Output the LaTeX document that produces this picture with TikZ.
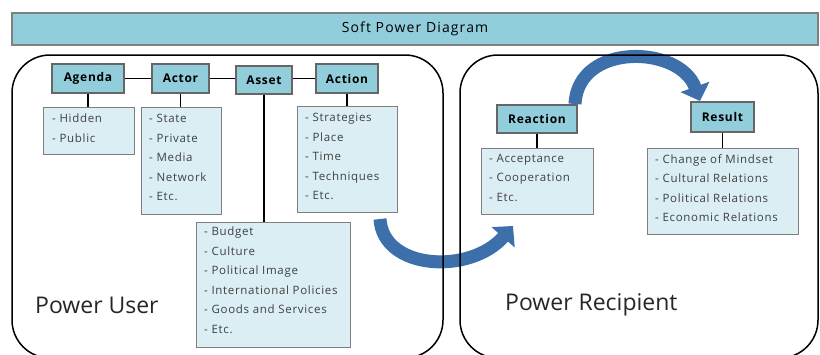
\documentclass[tikz,border=0pt]{standalone}
\usepackage{fontspec}
\setmainfont{Open Sans}
\newfontfamily\spaced[LetterSpace=6]{Open Sans}
\newfontfamily\titlefont[LetterSpace=8]{Open Sans}
\usetikzlibrary{arrows.meta}
\definecolor{hdr}{HTML}{92CDDC}
\definecolor{lst}{HTML}{DAEEF3}
\definecolor{bord}{HTML}{7F7F7F}
\definecolor{arr}{HTML}{3D6FAB}
\begin{document}
\begin{tikzpicture}[x=1pt,y=-1pt,
  hbox/.style={draw=black!60, line width=1.2, fill=hdr, font=\spaced\bfseries\fontsize{12}{13}\selectfont, inner sep=0},
  lbox/.style={draw=bord, line width=0.9, fill=lst, inner sep=0, anchor=north west},
  ltext/.style={font=\spaced\fontsize{11.5}{19.5}\selectfont, align=left, anchor=north west, inner sep=0, text=black!75},
  conn/.style={line width=1.6, draw=black},
  region/.style={draw=black, line width=1.5, rounded corners=38},
  blk/.style={line width=13, draw=arr, -{Triangle[width=30,length=15]}},
  bigtext/.style={font=\fontsize{23}{26}\selectfont, anchor=west, inner sep=0, text=black!85}
]
\useasboundingbox (0,0) rectangle (820,354);
% title bar
\node[draw=black!50, line width=1.2, fill=hdr, minimum width=806, minimum height=32, inner sep=0, font=\titlefont\fontsize{14}{15}\selectfont] (title) at (415,29) {Soft Power Diagram};
% block arrows (drawn below the region borders)
\coordinate (a1s) at (575,104);
\coordinate (a1e) at (700,101);
\coordinate (a2s) at (380,219);
\coordinate (a2e) at (513,226);
\draw[blk] (a2s) .. controls (383,270) and (470,275) .. (a2e);
\draw[blk] (a1s) .. controls (578,42) and (680,45) .. (a1e);
% regions
\draw[region] (12,55) rectangle (443,358);
\draw[region] (460,55) rectangle (818,358);
\node[bigtext] (user) at (35,305) {Power User};
\node[bigtext] (recip) at (505,305) {Power Recipient};
% header boxes
\node[hbox, minimum width=72, minimum height=29] (agenda) at (88,78.5) {Agenda};
\node[hbox, minimum width=57, minimum height=29] (actor) at (180.5,78.5) {Actor};
\node[hbox, minimum width=56, minimum height=28] (asset) at (264,80) {Asset};
\node[hbox, minimum width=62, minimum height=29] (action) at (347,78.5) {Action};
\node[hbox, minimum width=80, minimum height=28] (reaction) at (537,119) {Reaction};
\node[hbox, minimum width=63, minimum height=30] (result) at (722.5,117) {Result};
% list boxes
\node[lbox, minimum width=91, minimum height=47] (agl) at (43,107) {};
\node[lbox, minimum width=80, minimum height=107] (acl) at (141,107) {};
\node[lbox, minimum width=154, minimum height=125] (asl) at (196,222) {};
\node[lbox, minimum width=100, minimum height=106] (atl) at (297,106) {};
\node[lbox, minimum width=112, minimum height=66] (rel) at (481,148) {};
\node[lbox, minimum width=151, minimum height=86] (rsl) at (647,148) {};
% list texts
\node[ltext] (aglt) at (52,114) {- Hidden\\- Public};
\node[ltext] (aclt) at (149,114) {- State\\- Private\\- Media\\- Network\\- Etc.};
\node[ltext] (aslt) at (204,227) {- Budget\\- Culture\\- Political Image\\- International Policies\\- Goods and Services\\- Etc.};
\node[ltext] (atlt) at (305,113) {- Strategies\\- Place\\- Time\\- Techniques\\- Etc.};
\node[ltext] (relt) at (489,154) {- Acceptance\\- Cooperation\\- Etc.};
\node[ltext] (rslt) at (655,154) {- Change of Mindset\\- Cultural Relations\\- Political Relations\\- Economic Relations};
% connectors
\draw[conn] (agenda.east) -- (actor.west |- agenda.east);
\draw[conn] (actor.east) -- (asset.west |- actor.east);
\draw[conn] (asset.east |- action.west) -- (action.west);
\draw[conn] (agenda.south) -- (agenda.south |- agl.north);
\draw[conn] (actor.south) -- (actor.south |- acl.north);
\draw[conn] (asset.south) -- (asset.south |- asl.north);
\draw[conn] (action.south) -- (action.south |- atl.north);
\draw[conn] (reaction.south) -- (reaction.south |- rel.north);
\draw[conn] (result.south) -- (result.south |- rsl.north);
\end{tikzpicture}
\end{document}
